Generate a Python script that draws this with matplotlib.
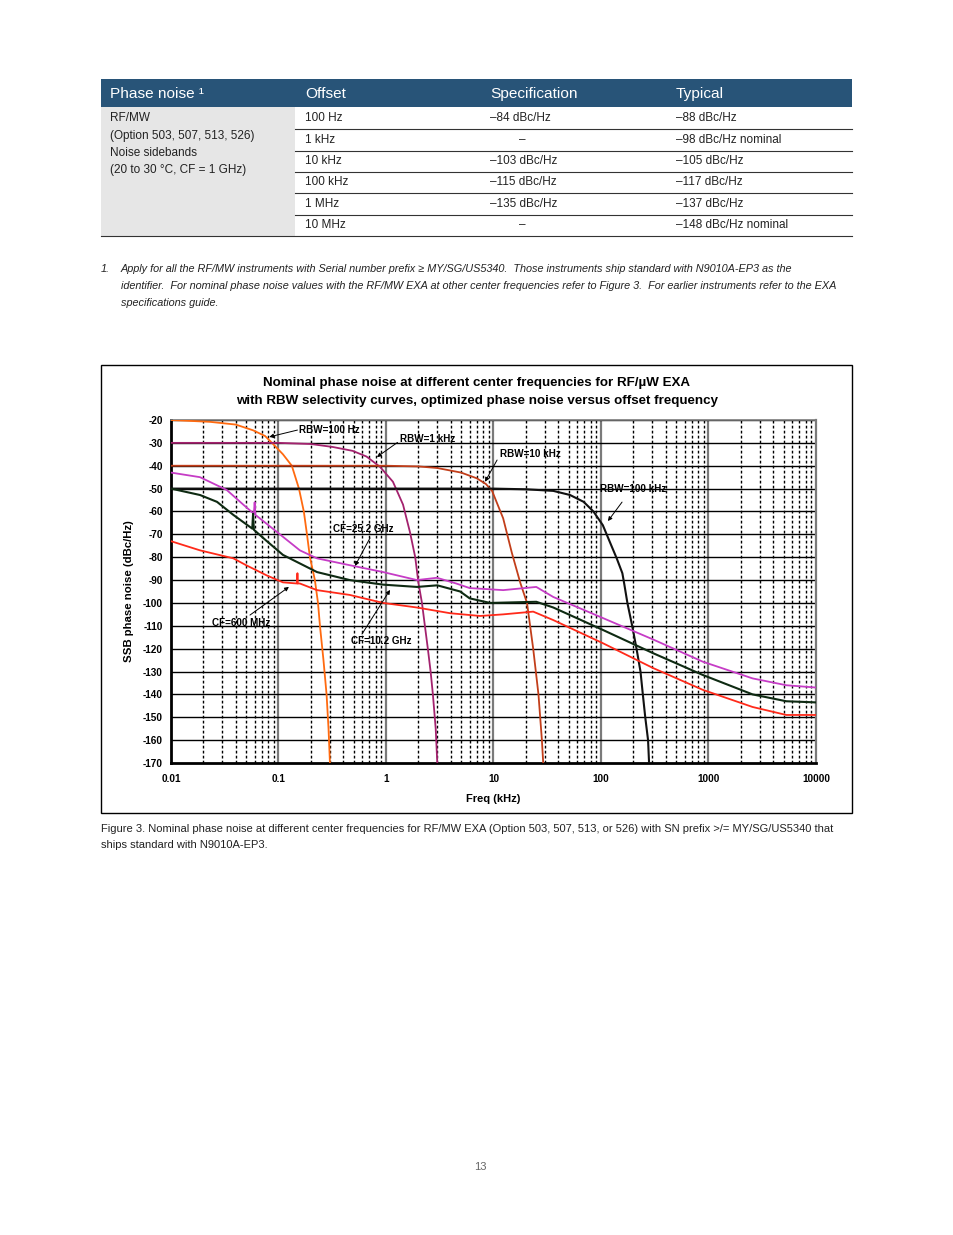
"""
Phase noise spec page: table, footnote and nominal phase noise chart
for the RF/MW EXA (Figure 3).
"""

import numpy as np
import matplotlib
matplotlib.use('Agg')
import matplotlib.pyplot as plt
from matplotlib.patches import Rectangle

# no condensed face installed: Arial-metric Liberation Sans at smaller sizes
NARROW = ['Liberation Sans', 'DejaVu Sans']
ARIAL = ['Liberation Sans', 'DejaVu Sans']

# ---- table data ----
table_header = ['Phase noise \u00b9', 'Offset', 'Specification', 'Typical']
table_group = ['RF/MW', '(Option 503, 507, 513, 526)', 'Noise sidebands',
               '(20 to 30 \u00b0C, CF = 1 GHz)']
offsets = ['100 Hz', '1 kHz', '10 kHz', '100 kHz', '1 MHz', '10 MHz']
specs = ['\u201384 dBc/Hz', '\u2013', '\u2013103 dBc/Hz', '\u2013115 dBc/Hz',
         '\u2013135 dBc/Hz', '\u2013']
typicals = ['\u201388 dBc/Hz', '\u201398 dBc/Hz nominal', '\u2013105 dBc/Hz',
            '\u2013117 dBc/Hz', '\u2013137 dBc/Hz', '\u2013148 dBc/Hz nominal']

footnote = [
    'Apply for all the RF/MW instruments with Serial number prefix \u2265 MY/SG/US5340.  '
    'Those instruments ship standard with N9010A-EP3 as the',
    'identifier.  For nominal phase noise values with the RF/MW EXA at other center '
    'frequencies refer to Figure 3.  For earlier instruments refer to the EXA',
    'specifications guide.',
]
caption = [
    'Figure 3. Nominal phase noise at different center frequencies for RF/MW EXA '
    '(Option 503, 507, 513, or 526) with SN prefix >/= MY/SG/US5340 that',
    'ships standard with N9010A-EP3.',
]

# ---- chart data (offset in kHz, level in dBc/Hz) ----
rbw100_f = [0.01, 0.023, 0.04, 0.058, 0.075, 0.087, 0.11, 0.133, 0.155, 0.172,
            0.184, 0.196, 0.218, 0.233, 0.243, 0.262, 0.28, 0.292, 0.301]
rbw100_db = [-20, -20.8, -22, -24.5, -27, -30, -35, -40, -50, -60,
             -70, -80, -90, -100, -110, -125, -140, -155, -170]

rbw1k_f = [0.01, 0.1, 0.2, 0.32, 0.49, 0.66, 0.88, 1.16, 1.44, 1.67,
           1.87, 2.0, 2.16, 2.3, 2.45, 2.6, 2.73, 2.9, 3.0]
rbw1k_db = [-30, -30, -30.5, -31.8, -33.5, -36, -40.5, -47, -57, -69,
            -80, -91, -100, -110, -120, -130, -140, -155, -170]

rbw10k_f = [0.01, 1, 2, 3, 5, 7, 8.5, 9.7, 12.3, 14.8,
            17.7, 20.5, 23.4, 26.2, 28.2, 29]
rbw10k_db = [-40, -40, -40.3, -41, -43, -45.5, -48, -51, -63, -78,
             -91, -100, -120, -140, -160, -170]

rbw100k_f = [0.01, 10, 20, 36, 51.5, 69, 85, 104, 120, 140,
             158, 165, 176, 195, 214, 233, 245, 258, 274, 280]
rbw100k_db = [-50, -50, -50.3, -51, -52.8, -55.8, -60, -66, -73, -80.5,
              -87, -92, -100, -110, -120, -130, -140, -150, -160, -170]

cf25_f = [0.01, 0.0186, 0.033, 0.047, 0.059, 0.06, 0.061, 0.067, 0.103, 0.158,
          0.228, 0.46, 0.94, 1.94, 2.98, 4.5, 6.0, 12.3, 25, 36,
          104, 306, 885, 2570, 5300, 10000]
cf25_db = [-43, -45, -50.6, -57, -61, -56, -61.5, -63, -70, -77,
           -80.5, -83.5, -86.5, -90, -89, -91.5, -93.5, -94.4, -93, -97.4,
           -106.6, -116, -125.7, -133, -136, -137]

cf10_f = [0.01, 0.0186, 0.0268, 0.038, 0.057, 0.058, 0.059, 0.078, 0.11, 0.228,
          0.46, 0.94, 1.94, 3.0, 4.9, 6.0, 9.3, 25, 36, 104,
          306, 885, 2570, 5300, 10000]
cf10_db = [-50, -52.8, -55.8, -61.5, -67.5, -61, -68, -73, -79, -86.5,
           -90, -92, -93, -92.3, -95, -98, -100, -99.5, -102, -111.8,
           -122, -131.5, -140, -143, -143.5]

cf600_f = [0.01, 0.0186, 0.038, 0.05, 0.078, 0.11, 0.149, 0.15, 0.151, 0.158,
           0.228, 0.46, 0.94, 1.94, 3.95, 7.5, 12.3, 23.4, 36, 104,
           306, 885, 2570, 5300, 10000]
cf600_db = [-73, -77, -80.5, -83.5, -88, -91, -91.5, -87, -91.5, -91.5,
            -94.4, -96.5, -100, -102, -104.5, -105.7, -105, -103.8, -107.5, -117.6,
            -128.5, -138, -145.5, -149, -149]

x_ticks = [0.01, 0.1, 1, 10, 100, 1000, 10000]
x_tick_labels = ['0.01', '0.1', '1', '10', '100', '1000', '10000']
y_ticks = list(range(-170, -19, 10))

# annotation labels: (text, text pos, arrow tail, arrow head) in data coords
labels = [
    ('RBW=100 Hz', (0.155, -24.4), (0.15, -24.4), (0.082, -27.4)),
    ('RBW=1 kHz', (1.35, -28.3), (1.28, -29.8), (0.824, -36.2)),
    ('RBW=10 kHz', (11.5, -34.9), (10.8, -37.5), (8.34, -47)),
    ('RBW=100 kHz', (98, -50.2), (157, -55.9), (116, -64.2)),
    ('CF=25.2 GHz', (0.321, -67.7), (0.71, -71.6), (0.515, -83.8)),
    ('CF=600 MHz', (0.024, -108.8), (0.0543, -105.3), (0.125, -93)),
    ('CF=10.2 GHz', (0.472, -116.6), (0.598, -113.6), (1.09, -94.3)),
]


def draw_page(page):
    """Table, footnote, caption and page number in pixel coords."""
    blue = '#285478'
    ink = '#222222'
    # header band
    page.add_patch(Rectangle((101, 79), 751, 28, facecolor=blue, edgecolor='none'))
    col_x = [110, 305, 490, 676]
    for x, t in zip(col_x, table_header):
        page.text(x, 94, t, color='white', fontsize=11.1, family=NARROW,
                  ha='left', va='center')
    # grey group column
    page.add_patch(Rectangle((101, 107), 194, 129, facecolor='#e6e6e6', edgecolor='none'))
    for i, t in enumerate(table_group):
        page.text(110, 118 + i * 17.5, t, fontsize=8.5, family=NARROW,
                  ha='left', va='center', color=ink)
    row_y = [118, 140, 161, 182, 204, 225]
    for i, y in enumerate(row_y):
        page.text(305, y, offsets[i], fontsize=8.5, family=NARROW, ha='left',
                  va='center', color=ink)
        if specs[i] == '\u2013':
            page.text(522, y, specs[i], fontsize=8.5, family=NARROW, ha='center',
                      va='center', color=ink)
        else:
            page.text(490, y, specs[i], fontsize=8.5, family=NARROW, ha='left',
                      va='center', color=ink)
        page.text(676, y, typicals[i], fontsize=8.5, family=NARROW, ha='left',
                  va='center', color=ink)
        y_line = y + 11
        x0 = 101 if i == len(row_y) - 1 else 295
        page.plot([x0, 852], [y_line, y_line], color='#333333', lw=0.8)

    # footnote
    page.text(101, 269, '1.', fontsize=7.85, family=NARROW, style='italic',
              ha='left', va='center', color=ink)
    for i, line in enumerate(footnote):
        page.text(121, 269 + i * 17, line, fontsize=7.85, family=NARROW,
                  style='italic', ha='left', va='center', color=ink)

    # chart frame
    page.add_patch(Rectangle((101, 365), 751, 448, facecolor='none',
                             edgecolor='black', lw=1))
    page.text(477, 383, 'Nominal phase noise at different center frequencies for RF/\u00b5W EXA',
              fontsize=9.6, fontweight='bold', family=NARROW, ha='center', va='center')
    page.text(477, 401, 'with RBW selectivity curves, optimized phase noise versus offset frequency',
              fontsize=9.6, fontweight='bold', family=NARROW, ha='center', va='center')

    # caption
    for i, line in enumerate(caption):
        page.text(101, 829 + i * 16, line, fontsize=8.0, family=NARROW,
                  ha='left', va='center', color=ink)

    page.text(480, 1167, '13', fontsize=8.0, family=NARROW, ha='center',
              va='center', color='#666666')


def draw_chart(ax):
    """Phase noise curves with RBW selectivity."""
    ax.set_xscale('log')
    ax.set_xlim(0.01, 10000)
    ax.set_ylim(-170, -20)

    # grid: solid decades, dotted minors, solid 10 dB rows
    for dec in [0.01, 0.1, 1, 10, 100, 1000]:
        for m in range(2, 10):
            ax.axvline(dec * m, color='black', lw=1.0, ls=(0, (2, 1.6)), zorder=1)
    for dec in [0.1, 1, 10, 100, 1000]:
        ax.axvline(dec, color='#7a7a7a', lw=1.6, zorder=1)
    for y in y_ticks[1:]:
        ax.axhline(y, color='black', lw=1.0, zorder=1)

    ax.plot(rbw100_f, rbw100_db, color='#ff6a10', lw=1.3, zorder=3)
    ax.plot(rbw1k_f, rbw1k_db, color='#a3226e', lw=1.3, zorder=3)
    ax.plot(rbw10k_f, rbw10k_db, color='#c23e1a', lw=1.3, zorder=3)
    ax.plot(rbw100k_f, rbw100k_db, color='#111111', lw=1.5, zorder=3)
    ax.plot(cf25_f, cf25_db, color='#c63cc6', lw=1.3, zorder=3)
    ax.plot(cf10_f, cf10_db, color='#0e2a12', lw=1.5, zorder=3)
    ax.plot(cf600_f, cf600_db, color='#ff2a1a', lw=1.3, zorder=3)

    for text, tpos, tail, head in labels:
        ax.text(tpos[0], tpos[1], text, fontsize=7.1, fontweight='bold',
                family=ARIAL, ha='left', va='center', zorder=5)
        ax.annotate('', xy=head, xytext=tail, zorder=5,
                    arrowprops=dict(arrowstyle='-|>', color='black', lw=0.7,
                                    mutation_scale=6, shrinkA=0, shrinkB=0))

    ax.set_xticks(x_ticks)
    ax.set_xticklabels(x_tick_labels)
    ax.xaxis.set_minor_locator(matplotlib.ticker.NullLocator())
    ax.set_yticks(y_ticks)
    ax.set_yticklabels([str(v) for v in y_ticks])
    ax.tick_params(length=0, pad=6)
    for lab in ax.get_xticklabels() + ax.get_yticklabels():
        lab.set_fontsize(7.2)
        lab.set_fontweight('bold')
        lab.set_family(ARIAL)
    ax.tick_params(axis='x', pad=8)

    ax.set_xlabel('Freq (kHz)', fontsize=8, fontweight='bold', family=ARIAL,
                  labelpad=7)
    ax.set_ylabel('SSB phase noise (dBc/Hz)', fontsize=8.2, fontweight='bold',
                  family=ARIAL, labelpad=6)

    ax.spines['left'].set_linewidth(2)
    ax.spines['bottom'].set_linewidth(2)
    ax.spines['top'].set_color('#7a7a7a')
    ax.spines['top'].set_linewidth(1.2)
    ax.spines['right'].set_color('#7a7a7a')
    ax.spines['right'].set_linewidth(1.6)


def main():
    fig = plt.figure(figsize=(9.54, 12.35), dpi=100)
    page = fig.add_axes([0, 0, 1, 1])
    page.set_xlim(0, 954)
    page.set_ylim(1235, 0)
    page.axis('off')
    draw_page(page)

    ax = fig.add_axes([171 / 954, 1 - 763 / 1235, 645 / 954, 343 / 1235])
    draw_chart(ax)

    fig.savefig('out.png', dpi=100)
    plt.close(fig)


if __name__ == "__main__":
    main()
